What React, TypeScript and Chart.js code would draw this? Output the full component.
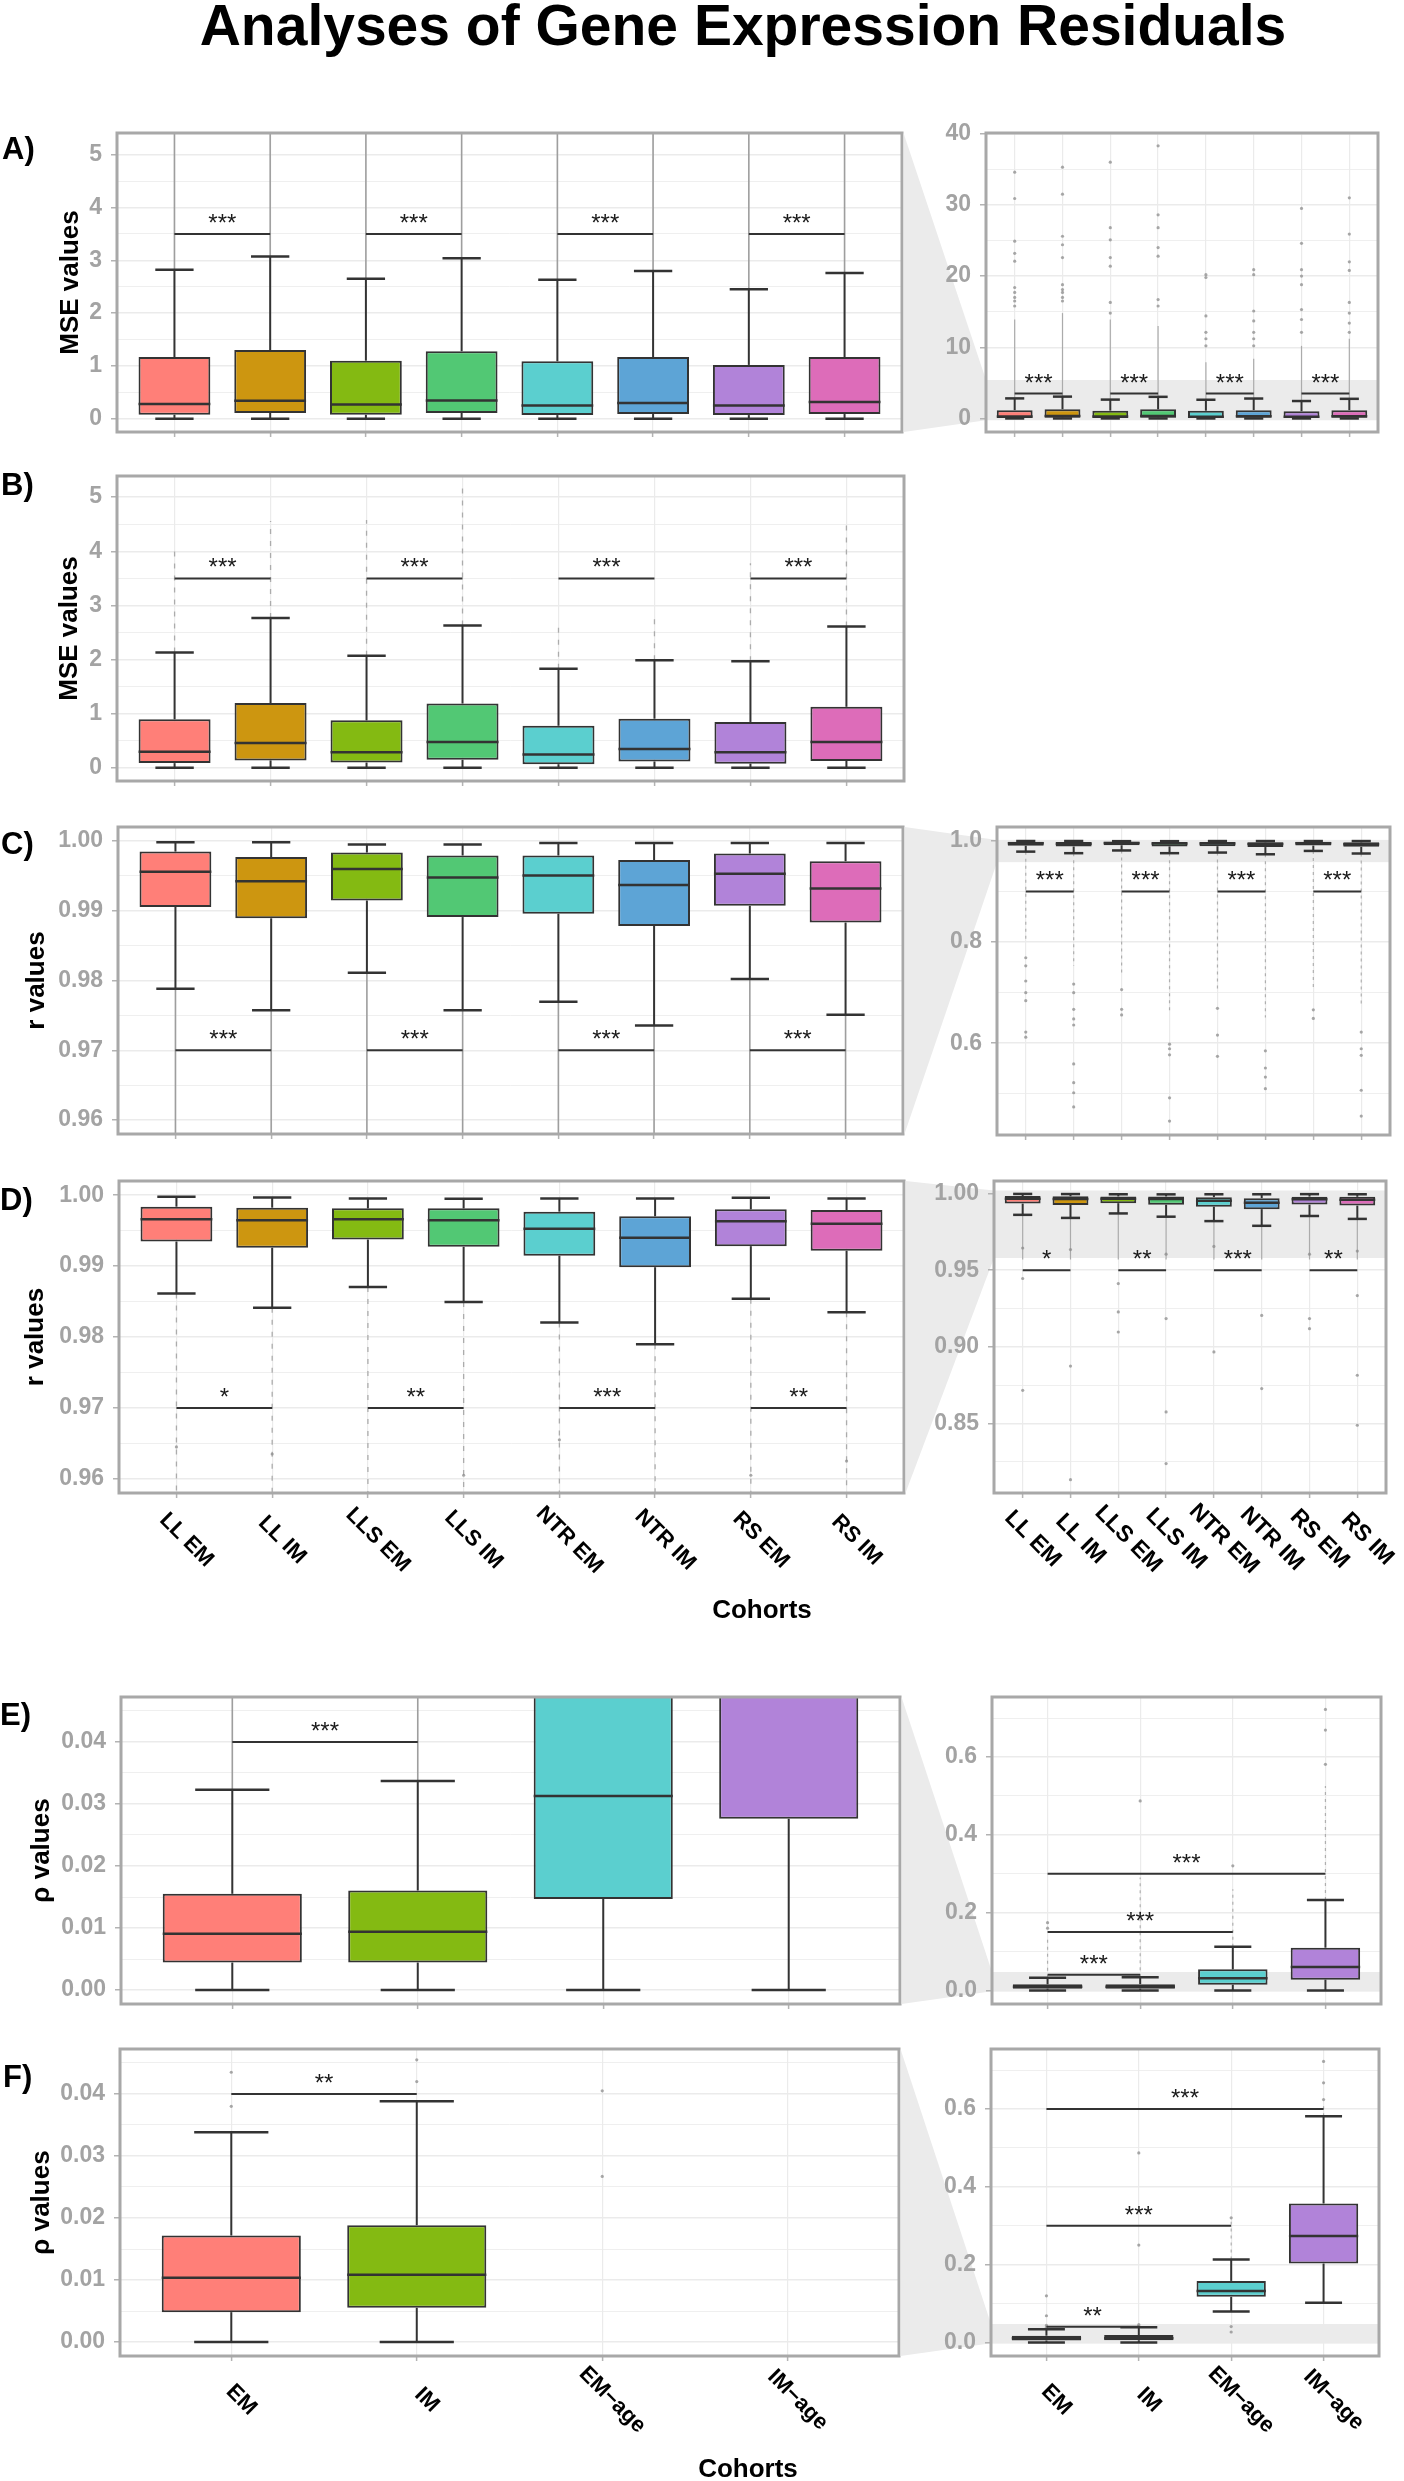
import React, { useEffect, useRef } from 'react';
import { Chart, registerables } from 'chart.js';

Chart.register(...registerables);

const FONT = "'Liberation Sans', Arial, Helvetica, sans-serif";
Chart.defaults.font.family = FONT;

/* ---------------- categories ---------------- */
const cohorts8 = ['LL EM', 'LL IM', 'LLS EM', 'LLS IM', 'NTR EM', 'NTR IM', 'RS EM', 'RS IM'];
const cohorts4 = ['EM', 'IM', 'EM\u2212age', 'IM\u2212age'];

/* ---------------- A) MSE values ---------------- */
const mseA_q1 = [0.076, 0.11, 0.075, 0.11, 0.07, 0.09, 0.07, 0.09];
const mseA_med = [0.28, 0.34, 0.27, 0.345, 0.25, 0.3, 0.25, 0.32];
const mseA_q3 = [1.17, 1.3, 1.1, 1.28, 1.09, 1.17, 1.02, 1.17];
const mseA_lo = [0.003, 0.003, 0.003, 0.003, 0.003, 0.003, 0.003, 0.003];
const mseA_hi = [2.82, 3.07, 2.65, 3.04, 2.63, 2.8, 2.45, 2.76];
const mseA_denseTo = [13.9, 14.8, 13.9, 13.0, 7.9, 8.4, 10.2, 11.2];
const mseA_outliers = [
  [34.6, 30.9, 24.9, 23.2, 22.1, 18.4, 17.7, 17.0, 16.5, 15.8],
  [35.3, 31.5, 25.6, 24.4, 22.6, 18.8, 18.1, 17.7, 17.0, 16.5],
  [36.0, 26.8, 25.1, 22.6, 21.4, 16.3, 14.8],
  [38.3, 28.6, 26.8, 24.0, 22.8, 16.7, 15.8],
  [20.2, 19.8, 14.4, 12.1, 11.2, 10.2],
  [20.9, 20.2, 15.1, 13.7, 12.1, 11.2, 10.2],
  [29.5, 24.6, 20.9, 20.0, 18.8, 15.3, 13.9, 12.1],
  [31.0, 25.9, 22.0, 20.8, 16.3, 14.8, 13.4, 12.1],
];
const sigA_labels = ['***', '***', '***', '***'];
const sigA_yLeft = [3.5, 3.5, 3.5, 3.5];
const sigA_yRight = [3.5, 3.5, 3.5, 3.5];

/* ---------------- B) MSE values ---------------- */
const mseB_q1 = [0.09, 0.14, 0.1, 0.15, 0.07, 0.12, 0.08, 0.13];
const mseB_med = [0.3, 0.46, 0.29, 0.48, 0.25, 0.35, 0.29, 0.48];
const mseB_q3 = [0.9, 1.2, 0.88, 1.19, 0.78, 0.91, 0.85, 1.13];
const mseB_lo = [0.003, 0.003, 0.003, 0.003, 0.003, 0.003, 0.003, 0.003];
const mseB_hi = [2.13, 2.77, 2.07, 2.63, 1.83, 1.99, 1.97, 2.61];
const mseB_denseTo = [4.09, 4.56, 4.58, 5.18, 2.64, 2.83, 3.78, 4.58];
const mseB_outliers = [[], [], [], [], [], [], [], []];
const sigB_labels = ['***', '***', '***', '***'];
const sigB_y = [3.5, 3.5, 3.5, 3.5];

/* ---------------- C) r values ---------------- */
const rC_q1 = [0.99055, 0.98891, 0.99146, 0.98909, 0.98956, 0.98782, 0.9907, 0.9883];
const rC_med = [0.99557, 0.99424, 0.99599, 0.99476, 0.99504, 0.99367, 0.9953, 0.9932];
const rC_q3 = [0.99848, 0.99769, 0.99834, 0.99792, 0.99792, 0.99726, 0.9982, 0.9971];
const rC_lo = [0.9788, 0.97574, 0.98112, 0.97574, 0.97696, 0.97356, 0.9802, 0.9751];
const rC_hi = [0.9998, 0.9998, 0.9995, 0.9995, 0.9997, 0.9997, 0.9997, 0.9997];
const rC_denseTo = [0.7987, 0.753, 0.74, 0.661, 0.707, 0.651, 0.708, 0.674];
const rC_outliers = [
  [0.769, 0.753, 0.723, 0.7, 0.684, 0.622, 0.612],
  [0.717, 0.7, 0.667, 0.648, 0.636, 0.559, 0.522, 0.502, 0.474],
  [0.706, 0.667, 0.656],
  [0.598, 0.589, 0.577, 0.492, 0.446],
  [0.669, 0.616, 0.574],
  [0.585, 0.551, 0.533, 0.51],
  [0.666, 0.649],
  [0.622, 0.589, 0.576, 0.507, 0.456],
];
const sigC_labels = ['***', '***', '***', '***'];
const sigC_yLeft = [0.97, 0.97, 0.97, 0.97];
const sigC_yRight = [0.9, 0.9, 0.9, 0.9];

/* ---------------- D) r values ---------------- */
const rD_q1 = [0.99346, 0.99258, 0.99374, 0.99271, 0.99146, 0.98984, 0.99281, 0.99216];
const rD_med = [0.99661, 0.99647, 0.99661, 0.99647, 0.99527, 0.99401, 0.99633, 0.99596];
const rD_q3 = [0.99838, 0.99824, 0.99814, 0.99814, 0.99768, 0.99703, 0.998, 0.99791];
const rD_lo = [0.98613, 0.98413, 0.98705, 0.98492, 0.98204, 0.97898, 0.98538, 0.98348];
const rD_hi = [0.99977, 0.99968, 0.99954, 0.99949, 0.99954, 0.99954, 0.99963, 0.99954];
const rD_denseTo = [0.957, 0.957, 0.957, 0.957, 0.957, 0.957, 0.957, 0.957];
const rD_outliers = [
  [0.9645, 0.9446, 0.8717],
  [0.9635, 0.8875, 0.8134],
  [0.9413, 0.9228, 0.9097],
  [0.9605, 0.9185, 0.8576, 0.8239],
  [0.9655, 0.8967],
  [0.9205, 0.8728],
  [0.9605, 0.9185, 0.9119],
  [0.9625, 0.9335, 0.8815, 0.8489],
];
const sigD_labels = ['*', '**', '***', '**'];
const sigD_yLeft = [0.97, 0.97, 0.97, 0.97];
const sigD_yRight = [0.95, 0.95, 0.95, 0.95];

/* ---------------- E) rho values ---------------- */
const rhoE_q1 = [0.00443, 0.00443, 0.0147, 0.0276];
const rhoE_med = [0.00907, 0.00939, 0.0313, 0.06];
const rhoE_q3 = [0.01552, 0.01605, 0.054, 0.1097];
const rhoE_lo = [0.0, 0.0, 0.0, 0.0];
const rhoE_hi = [0.0323, 0.0337, 0.1123, 0.2322];
const rhoE_denseTo = [0.134, 0.29, 0.26, 0.525];
const rhoE_outliers = [[0.174, 0.16], [0.487], [0.32], [0.581, 0.669, 0.722]];
const sigE_pairsLeft = [[1, 2]];
const sigE_labelsLeft = ['***'];
const sigE_yLeft = [0.04];
const sigE_pairsRight = [[1, 2], [1, 3], [1, 4]];
const sigE_labelsRight = ['***', '***', '***'];
const sigE_yRight = [0.04, 0.15, 0.3];

/* ---------------- F) rho values ---------------- */
const rhoF_q1 = [0.00482, 0.00552, 0.117, 0.2025];
const rhoF_med = [0.01038, 0.01087, 0.132, 0.2735];
const rhoF_q3 = [0.01718, 0.01884, 0.158, 0.357];
const rhoF_lo = [0.0, 0.0, 0.0795, 0.1016];
const rhoF_hi = [0.03382, 0.03884, 0.2128, 0.581];
const rhoF_denseTo = [0.03382, 0.03884, 0.31, 0.61];
const rhoF_outliers = [
  [0.038, 0.0435, 0.0685, 0.1196],
  [0.042, 0.0455, 0.25, 0.487],
  [0.0267, 0.0405, 0.32],
  [0.624, 0.667, 0.722],
];
const sigF_pairsLeft = [[1, 2]];
const sigF_labelsLeft = ['**'];
const sigF_yLeft = [0.04];
const sigF_pairsRight = [[1, 2], [1, 3], [1, 4]];
const sigF_labelsRight = ['**', '***', '***'];
const sigF_yRight = [0.04, 0.3, 0.6];

const sigPairs8 = [[1, 2], [3, 4], [5, 6], [7, 8]];

/* ---------------- y tick values / labels ---------------- */
const yMajorMse = [0, 1, 2, 3, 4, 5];
const yMajorMseLabels = ['0', '1', '2', '3', '4', '5'];
const yMinorMse = [0.5, 1.5, 2.5, 3.5, 4.5];
const yMajorMseZoom = [0, 10, 20, 30, 40];
const yMajorMseZoomLabels = ['0', '10', '20', '30', '40'];
const yMinorMseZoom = [5, 15, 25, 35];
const yMajorR = [0.96, 0.97, 0.98, 0.99, 1.0];
const yMajorRLabels = ['0.96', '0.97', '0.98', '0.99', '1.00'];
const yMinorR = [0.965, 0.975, 0.985, 0.995];
const yMajorRZoomC = [0.6, 0.8, 1.0];
const yMajorRZoomCLabels = ['0.6', '0.8', '1.0'];
const yMinorRZoomC = [0.5, 0.7, 0.9];
const yMajorRZoomD = [0.85, 0.9, 0.95, 1.0];
const yMajorRZoomDLabels = ['0.85', '0.90', '0.95', '1.00'];
const yMinorRZoomD = [0.825, 0.875, 0.925, 0.975];
const yMajorRho = [0, 0.01, 0.02, 0.03, 0.04];
const yMajorRhoLabels = ['0.00', '0.01', '0.02', '0.03', '0.04'];
const yMinorRho = [0.005, 0.015, 0.025, 0.035, 0.045];
const yMajorRhoZoom = [0, 0.2, 0.4, 0.6];
const yMajorRhoZoomLabels = ['0.0', '0.2', '0.4', '0.6'];
const yMinorRhoZoom = [0.1, 0.3, 0.5, 0.7];

/* ---------------- styles ---------------- */
const colors8 = ['#FF7F78', '#CD9610', '#84BA12', '#52C874', '#5BCFCF', '#5DA4D6', '#B183D9', '#DD6CB9'];
const colors4 = ['#FF7F78', '#84BA12', '#5BCFCF', '#B183D9'];
const OUT_SOLID = { color: 'rgba(150,150,150,0.9)', width: 1.6, dash: [] as number[] };
const OUT_DASHED = { color: 'rgba(165,165,165,0.9)', width: 1.3, dash: [5, 7] };
const OUT_THIN = { color: 'rgba(160,160,160,0.85)', width: 1.2, dash: [] as number[] };
const OUT_THIN_DASHED = { color: 'rgba(165,165,165,0.85)', width: 1.2, dash: [3, 4] };

const mk = (q1, med, q3, lo, hi, denseTo, sparse) => ({ q1, med, q3, lo, hi, denseTo, sparse });
const statsA = mk(mseA_q1, mseA_med, mseA_q3, mseA_lo, mseA_hi, mseA_denseTo, mseA_outliers);
const statsB = mk(mseB_q1, mseB_med, mseB_q3, mseB_lo, mseB_hi, mseB_denseTo, mseB_outliers);
const statsC = mk(rC_q1, rC_med, rC_q3, rC_lo, rC_hi, rC_denseTo, rC_outliers);
const statsD = mk(rD_q1, rD_med, rD_q3, rD_lo, rD_hi, rD_denseTo, rD_outliers);
const statsE = mk(rhoE_q1, rhoE_med, rhoE_q3, rhoE_lo, rhoE_hi, rhoE_denseTo, rhoE_outliers);
const statsF = mk(rhoF_q1, rhoF_med, rhoF_q3, rhoF_lo, rhoF_hi, rhoF_denseTo, rhoF_outliers);

/* ---------------- layout (page px) ---------------- */
const PAD_T = 30;
const FR = {
  aL: [117, 133, 902, 432], aR: [986, 133, 1378, 432],
  bL: [117, 476, 904, 781],
  cL: [118, 827, 903, 1134], cR: [997, 827, 1390, 1135],
  dL: [119, 1181, 904, 1493], dR: [994, 1181, 1386, 1493],
  eL: [121, 1697, 900, 2004], eR: [992, 1697, 1381, 2004],
  fL: [120, 2049, 899, 2356], fR: [991, 2049, 1379, 2356],
};

function leftPanel(id, frame, xH, padB, rest) {
  const [l, t, r, b] = frame;
  return { id, side: 'left', cx: 0, cy: t - PAD_T, cw: r + 8, ch: b - t + PAD_T + xH + padB, yW: l, padR: 8, padB, xH, ...rest };
}
function rightPanel(id, frame, leftFrame, xH, padB, padR, rest) {
  const [l, t, r, b] = frame;
  const cx = leftFrame[2];
  const cy = t - PAD_T;
  return {
    id, side: 'right', cx, cy, cw: r + padR - cx, ch: b - t + PAD_T + xH + padB, yW: l - cx, padR, padB, xH,
    wedgeTop: leftFrame[1] - cy, wedgeBottom: leftFrame[3] - cy, ...rest,
  };
}

const ticksOf = (majors, labels, minors) => ({ majors, majorLabels: labels, minors });

const panels = [
  leftPanel('aL', FR.aL, 0, 30, {
    cats: cohorts8, colors: colors8, stats: statsA, yMin: -0.25, yMax: 5.41,
    ...ticksOf(yMajorMse, yMajorMseLabels, yMinorMse), yTitle: 'MSE values', titleX: 71,
    sig: { pairs: sigPairs8, labels: sigA_labels, ys: sigA_yLeft }, outlier: OUT_SOLID,
  }),
  rightPanel('aR', FR.aR, FR.aL, 0, 30, 10, {
    cats: cohorts8, colors: colors8, stats: statsA, yMin: -1.9, yMax: 40.1, band: [-0.25, 5.41],
    ...ticksOf(yMajorMseZoom, yMajorMseZoomLabels, yMinorMseZoom),
    sig: { pairs: sigPairs8, labels: sigA_labels, ys: sigA_yRight }, outlier: OUT_THIN,
  }),
  leftPanel('bL', FR.bL, 0, 30, {
    cats: cohorts8, colors: colors8, stats: statsB, yMin: -0.24, yMax: 5.39,
    ...ticksOf(yMajorMse, yMajorMseLabels, yMinorMse), yTitle: 'MSE values', titleX: 70,
    sig: { pairs: sigPairs8, labels: sigB_labels, ys: sigB_y }, outlier: OUT_DASHED,
  }),
  leftPanel('cL', FR.cL, 0, 30, {
    cats: cohorts8, colors: colors8, stats: statsC, yMin: 0.958, yMax: 1.002,
    ...ticksOf(yMajorR, yMajorRLabels, yMinorR), yTitle: 'r values', titleX: 37,
    sig: { pairs: sigPairs8, labels: sigC_labels, ys: sigC_yLeft }, outlier: OUT_SOLID,
  }),
  rightPanel('cR', FR.cR, FR.cL, 0, 30, 10, {
    cats: cohorts8, colors: colors8, stats: statsC, yMin: 0.4185, yMax: 1.0275, band: [0.958, 1.002],
    ...ticksOf(yMajorRZoomC, yMajorRZoomCLabels, yMinorRZoomC),
    sig: { pairs: sigPairs8, labels: sigC_labels, ys: sigC_yRight }, outlier: OUT_THIN_DASHED,
  }),
  leftPanel('dL', FR.dL, 100, 10, {
    cats: cohorts8, colors: colors8, stats: statsD, yMin: 0.958, yMax: 1.002,
    ...ticksOf(yMajorR, yMajorRLabels, yMinorR), yTitle: 'r values', titleX: 36,
    sig: { pairs: sigPairs8, labels: sigD_labels, ys: sigD_yLeft }, outlier: OUT_DASHED,
    xLabels: true, xLabelSize: 22, xLabelDy: 47,
  }),
  rightPanel('dR', FR.dR, FR.dL, 100, 10, 16, {
    cats: cohorts8, colors: colors8, stats: statsD, yMin: 0.8047, yMax: 1.0082, band: [0.958, 1.002],
    ...ticksOf(yMajorRZoomD, yMajorRZoomDLabels, yMinorRZoomD),
    sig: { pairs: sigPairs8, labels: sigD_labels, ys: sigD_yRight }, outlier: OUT_THIN,
    xLabels: true, xLabelSize: 23, xLabelDy: 46,
  }),
  leftPanel('eL', FR.eL, 0, 30, {
    cats: cohorts4, colors: colors4, stats: statsE, yMin: -0.00225, yMax: 0.04725,
    ...ticksOf(yMajorRho, yMajorRhoLabels, yMinorRho), yTitle: '\u03c1 values', titleX: 42,
    sig: { pairs: sigE_pairsLeft, labels: sigE_labelsLeft, ys: sigE_yLeft }, outlier: OUT_SOLID,
  }),
  rightPanel('eR', FR.eR, FR.eL, 0, 30, 10, {
    cats: cohorts4, colors: colors4, stats: statsE, yMin: -0.035, yMax: 0.754, band: [-0.00225, 0.04725],
    ...ticksOf(yMajorRhoZoom, yMajorRhoZoomLabels, yMinorRhoZoom),
    sig: { pairs: sigE_pairsRight, labels: sigE_labelsRight, ys: sigE_yRight }, outlier: OUT_THIN_DASHED,
  }),
  leftPanel('fL', FR.fL, 100, 10, {
    cats: cohorts4, colors: colors4, stats: statsF, yMin: -0.00225, yMax: 0.04725,
    ...ticksOf(yMajorRho, yMajorRhoLabels, yMinorRho), yTitle: '\u03c1 values', titleX: 42,
    sig: { pairs: sigF_pairsLeft, labels: sigF_labelsLeft, ys: sigF_yLeft }, outlier: OUT_DASHED,
    xLabels: true, xLabelSize: 22, xLabelDy: 44,
  }),
  rightPanel('fR', FR.fR, FR.fL, 100, 10, 10, {
    cats: cohorts4, colors: colors4, stats: statsF, yMin: -0.035, yMax: 0.754, band: [-0.00225, 0.04725],
    ...ticksOf(yMajorRhoZoom, yMajorRhoZoomLabels, yMinorRhoZoom),
    sig: { pairs: sigF_pairsRight, labels: sigF_labelsRight, ys: sigF_yRight }, outlier: OUT_THIN_DASHED,
    xLabels: true, xLabelSize: 22, xLabelDy: 44,
  }),
];

function buildChart(canvas: HTMLCanvasElement, p: any) {
  const n = p.cats.length;
  const st = p.stats;
  const near = (a: number, b: number) => Math.abs(a - b) < 1e-9;
  const majorIndex = (v: number) => p.majors.findIndex((m: number) => near(m, v));
  const tickVals = [...p.majors, ...p.minors].filter((v) => v >= p.yMin && v <= p.yMax).sort((a, b) => a - b);
  const pts: { x: number; y: number }[] = [];
  st.sparse.forEach((arr: number[], i: number) => arr.forEach((v) => pts.push({ x: i + 1, y: v })));

  const seg = (ctx: CanvasRenderingContext2D, x1: number, y1: number, x2: number, y2: number) => {
    ctx.beginPath();
    ctx.moveTo(x1, y1);
    ctx.lineTo(x2, y2);
    ctx.stroke();
  };

  const plugin = {
    id: 'boxplotDraw',
    beforeDraw(chart: any) {
      if (!p.band) return;
      const { ctx, chartArea: ca } = chart;
      const y = chart.scales.y;
      ctx.save();
      ctx.fillStyle = '#ebebeb';
      ctx.beginPath();
      ctx.moveTo(1.5, p.wedgeTop);
      ctx.lineTo(ca.left, y.getPixelForValue(p.band[1]));
      ctx.lineTo(ca.left, y.getPixelForValue(p.band[0]));
      ctx.lineTo(1.5, p.wedgeBottom);
      ctx.closePath();
      ctx.fill();
      ctx.restore();
    },
    beforeDatasetsDraw(chart: any) {
      const { ctx, chartArea: ca } = chart;
      const x = chart.scales.x;
      const y = chart.scales.y;
      ctx.save();
      ctx.beginPath();
      ctx.rect(ca.left, ca.top, ca.right - ca.left, ca.bottom - ca.top);
      ctx.clip();
      if (p.band) {
        const t = y.getPixelForValue(p.band[1]);
        const b = y.getPixelForValue(p.band[0]);
        ctx.fillStyle = '#ebebeb';
        ctx.fillRect(ca.left, t, ca.right - ca.left, b - t);
      }
      // dense outlier runs
      ctx.strokeStyle = p.outlier.color;
      ctx.lineWidth = p.outlier.width;
      ctx.setLineDash(p.outlier.dash);
      for (let i = 0; i < n; i++) {
        const to = st.denseTo[i];
        const from = to >= st.hi[i] ? st.hi[i] : st.lo[i];
        if (near(to, from)) continue;
        const px = x.getPixelForValue(i + 1);
        seg(ctx, px, y.getPixelForValue(from), px, y.getPixelForValue(to));
      }
      ctx.setLineDash([]);
      // whiskers
      ctx.strokeStyle = '#333333';
      ctx.lineWidth = 2;
      for (let i = 0; i < n; i++) {
        const px = x.getPixelForValue(i + 1);
        seg(ctx, px, y.getPixelForValue(st.q3[i]), px, y.getPixelForValue(st.hi[i]));
        seg(ctx, px, y.getPixelForValue(st.q1[i]), px, y.getPixelForValue(st.lo[i]));
      }
      ctx.restore();
    },
    afterDatasetsDraw(chart: any) {
      const { ctx, chartArea: ca } = chart;
      const x = chart.scales.x;
      const y = chart.scales.y;
      const unit = x.getPixelForValue(2) - x.getPixelForValue(1);
      ctx.save();
      ctx.beginPath();
      ctx.rect(ca.left, ca.top, ca.right - ca.left, ca.bottom - ca.top);
      ctx.clip();
      ctx.strokeStyle = '#333333';
      for (let i = 0; i < n; i++) {
        const px = x.getPixelForValue(i + 1);
        const bw = (unit * 0.75) / 2;
        const cw = unit * 0.2;
        ctx.lineWidth = 2.5;
        const ym = y.getPixelForValue(st.med[i]);
        seg(ctx, px - bw, ym, px + bw, ym);
        const yh = y.getPixelForValue(st.hi[i]);
        const yl = y.getPixelForValue(st.lo[i]);
        seg(ctx, px - cw, yh, px + cw, yh);
        seg(ctx, px - cw, yl, px + cw, yl);
      }
      // significance brackets
      ctx.lineWidth = 2;
      ctx.fillStyle = '#1a1a1a';
      ctx.font = `24px ${FONT}`;
      ctx.textAlign = 'center';
      ctx.textBaseline = 'alphabetic';
      p.sig.pairs.forEach((pr: number[], k: number) => {
        const yv = y.getPixelForValue(p.sig.ys[k]);
        const xa = x.getPixelForValue(pr[0]);
        const xb = x.getPixelForValue(pr[1]);
        seg(ctx, xa, yv, xb, yv);
        ctx.fillText(p.sig.labels[k], (xa + xb) / 2, yv - 3);
      });
      ctx.restore();
      // panel border
      ctx.save();
      ctx.strokeStyle = '#a8a8a8';
      ctx.lineWidth = 3;
      ctx.strokeRect(ca.left, ca.top, ca.right - ca.left, ca.bottom - ca.top);
      ctx.restore();
    },
    afterDraw(chart: any) {
      if (!p.xLabels) return;
      const { ctx, chartArea: ca } = chart;
      const x = chart.scales.x;
      ctx.save();
      ctx.fillStyle = '#000000';
      ctx.font = `bold ${p.xLabelSize}px ${FONT}`;
      ctx.textAlign = 'center';
      ctx.textBaseline = 'middle';
      p.cats.forEach((c: string, i: number) => {
        ctx.save();
        ctx.translate(x.getPixelForValue(i + 1) + 10, ca.bottom + p.xLabelDy);
        ctx.rotate(Math.PI / 4);
        ctx.fillText(c, 0, 0);
        ctx.restore();
      });
      ctx.restore();
    },
  };

  return new Chart(canvas, {
    type: 'bar',
    data: {
      datasets: [
        {
          type: 'bar',
          data: p.cats.map((_: string, i: number) => ({ x: i + 1, y: [st.q1[i], st.q3[i]] })),
          backgroundColor: p.colors,
          borderColor: '#333333',
          borderWidth: 2,
          borderSkipped: false,
          barPercentage: 0.75,
          categoryPercentage: 1,
          clip: 0,
        } as any,
        {
          type: 'scatter',
          data: pts,
          pointRadius: 1.6,
          pointBackgroundColor: 'rgba(140,140,140,0.75)',
          pointBorderWidth: 0,
          clip: 0,
        } as any,
      ],
    },
    options: {
      animation: false,
      responsive: false,
      events: [],
      layout: { padding: { top: PAD_T, right: p.padR, bottom: p.padB, left: 0 } },
      plugins: { legend: { display: false }, tooltip: { enabled: false }, title: { display: false } },
      scales: {
        x: {
          type: 'linear',
          min: 0.4,
          max: n + 0.6,
          offset: false,
          grid: { offset: false, color: '#ebebeb', lineWidth: 1.2, drawTicks: true, tickLength: 5, tickColor: '#b3b3b3', tickWidth: 1.5 },
          border: { display: false },
          ticks: { display: false },
          afterBuildTicks: (s: any) => {
            s.ticks = p.cats.map((_: string, i: number) => ({ value: i + 1 }));
          },
          afterFit: (s: any) => {
            s.height = p.xH;
          },
        },
        y: {
          type: 'linear',
          min: p.yMin,
          max: p.yMax,
          grid: {
            color: '#ebebeb',
            lineWidth: (c: any) => (c.tick && majorIndex(c.tick.value) >= 0 ? 1.5 : 0.8),
            tickColor: (c: any) => (c.tick && majorIndex(c.tick.value) >= 0 ? '#b3b3b3' : 'rgba(0,0,0,0)'),
            tickLength: 6,
            tickWidth: 1.5,
          },
          border: { display: false },
          ticks: {
            autoSkip: false,
            padding: 9,
            color: '#a3a3a3',
            font: { family: FONT, size: 23, weight: 'bold' },
            callback: (v: any) => {
              const k = majorIndex(Number(v));
              return k >= 0 ? p.majorLabels[k] : '';
            },
          },
          afterBuildTicks: (s: any) => {
            s.ticks = tickVals.map((v) => ({ value: v }));
          },
          afterFit: (s: any) => {
            s.width = p.yW;
          },
          title: p.yTitle
            ? {
                display: true,
                text: p.yTitle,
                color: '#000000',
                font: { family: FONT, size: 26, weight: 'bold', lineHeight: 1.2 },
                padding: { top: p.titleX - 15.6, bottom: 0 },
              }
            : { display: false },
        },
      },
    } as any,
    plugins: [plugin],
  });
}

const tagStyle = (top: number, left: number): React.CSSProperties => ({
  position: 'absolute', left, top, fontSize: 31, lineHeight: '31px', fontWeight: 'bold', color: '#000', whiteSpace: 'nowrap',
});
const cohortsStyle = (top: number, cx: number): React.CSSProperties => ({
  position: 'absolute', left: cx, top, transform: 'translateX(-50%)', fontSize: 26, lineHeight: '26px', fontWeight: 'bold', color: '#000', whiteSpace: 'nowrap',
});

export default function App() {
  const refs = useRef<(HTMLCanvasElement | null)[]>([]);
  useEffect(() => {
    document.body.style.margin = '0';
    const charts = panels.map((p, i) => buildChart(refs.current[i] as HTMLCanvasElement, p));
    return () => charts.forEach((c) => c.destroy());
  }, []);

  return (
    <div style={{ position: 'relative', width: 1404, height: 2481, background: '#ffffff', fontFamily: FONT, overflow: 'hidden' }}>
      {panels.map((p, i) => (
        <canvas
          key={p.id}
          ref={(el) => {
            refs.current[i] = el;
          }}
          width={p.cw}
          height={p.ch}
          style={{ position: 'absolute', left: p.cx, top: p.cy, width: p.cw, height: p.ch }}
        />
      ))}
      <div style={{ position: 'absolute', left: 743, top: -3, transform: 'translateX(-50%)', fontSize: 57, lineHeight: '57px', fontWeight: 'bold', color: '#000', whiteSpace: 'nowrap' }}>
        Analyses of Gene Expression Residuals
      </div>
      <div style={tagStyle(133, 2)}>A)</div>
      <div style={tagStyle(469, 1)}>B)</div>
      <div style={tagStyle(828, 1)}>C)</div>
      <div style={tagStyle(1184, 0)}>D)</div>
      <div style={tagStyle(1699, 0)}>E)</div>
      <div style={tagStyle(2061, 3)}>F)</div>
      <div style={cohortsStyle(1596, 762)}>Cohorts</div>
      <div style={cohortsStyle(2455, 748)}>Cohorts</div>
    </div>
  );
}
